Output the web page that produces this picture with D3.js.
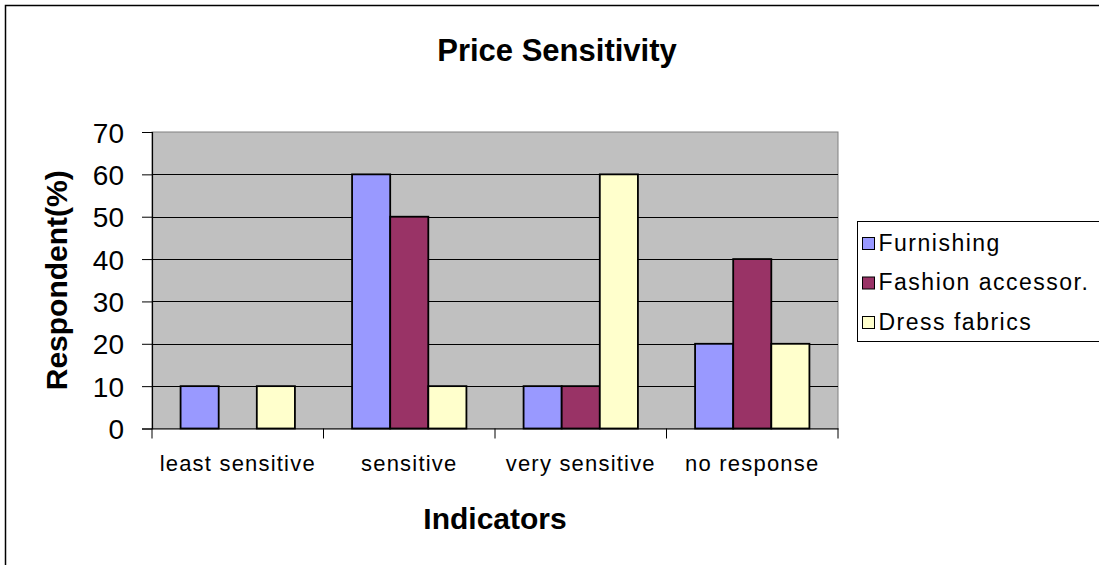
<!DOCTYPE html>
<html>
<head>
<meta charset="utf-8">
<script src="https://cdn.jsdelivr.net/npm/d3@7"></script>
<style>
  body { margin: 0; background: #fff; }
  svg { display: block; font-family: "Liberation Sans", Arial, sans-serif; }
</style>
</head>
<body>
<div id="chart"></div>
<script>
const categories = ['least sensitive', 'sensitive', 'very sensitive', 'no response'];
const seriesNames = ['Furnishing', 'Fashion accessor.', 'Dress fabrics'];
const furnishing = [10, 60, 10, 20];
const fashionAccessor = [0, 50, 10, 40];
const dressFabrics = [10, 10, 60, 20];
const yTicks = [0, 10, 20, 30, 40, 50, 60, 70];
const colors = ['#9999FF', '#993366', '#FFFFCC'];

const seriesValues = [furnishing, fashionAccessor, dressFabrics];
const rows = categories.map((c, i) => ({
  cat: c,
  vals: seriesNames.map((s, j) => ({ name: s, value: seriesValues[j][i], color: colors[j] }))
}));

const W = 1099, H = 565;
const plot = { left: 152, top: 132, right: 838, bottom: 428.5 };

const svg = d3.select('#chart').append('svg').attr('width', W).attr('height', H);

// outer border (clipped on right/bottom like the reference)
svg.append('rect').attr('x', 5.5).attr('y', 5.5).attr('width', W + 10).attr('height', H + 10)
  .attr('fill', '#fff').attr('stroke', '#000').attr('stroke-width', 1.5);

const x0 = d3.scaleBand().domain(categories).range([plot.left, plot.right]);
const barW = x0.bandwidth() / 4.5;
const x1 = d3.scaleBand().domain(seriesNames)
  .range([barW * 0.75, x0.bandwidth() - barW * 0.75]);
const y = d3.scaleLinear().domain([0, 70]).range([plot.bottom, plot.top]);

// plot area
svg.append('rect').attr('x', plot.left).attr('y', plot.top)
  .attr('width', plot.right - plot.left).attr('height', plot.bottom - plot.top)
  .attr('fill', '#C0C0C0').attr('stroke', '#808080').attr('stroke-width', 1);

// grid
svg.append('g').selectAll('line').data(yTicks.filter(d => d > 0 && d < 70)).enter().append('line')
  .attr('x1', plot.left).attr('x2', plot.right)
  .attr('y1', d => Math.round(y(d)) + 0.5).attr('y2', d => Math.round(y(d)) + 0.5)
  .attr('stroke', '#000').attr('stroke-width', 1);

// bars
const groups = svg.append('g').selectAll('g').data(rows).enter().append('g')
  .attr('transform', d => `translate(${x0(d.cat)},0)`);
groups.selectAll('rect').data(d => d.vals.filter(v => v.value > 0)).enter().append('rect')
  .attr('x', d => x1(d.name))
  .attr('y', d => y(d.value))
  .attr('width', x1.bandwidth())
  .attr('height', d => y(0) - y(d.value))
  .attr('fill', d => d.color)
  .attr('stroke', '#000').attr('stroke-width', 1.8);

// y axis
const yAxis = svg.append('g').attr('transform', `translate(${plot.left},0)`)
  .call(d3.axisLeft(y).tickValues(yTicks).tickSize(10).tickPadding(18));
yAxis.select('.domain').attr('stroke', '#000').attr('stroke-width', 1.2);
yAxis.selectAll('.tick line').attr('stroke', '#000');
yAxis.selectAll('text').style('font-size', '28px').attr('fill', '#000').attr('dy', '0.36em');

// x axis
const xAxis = svg.append('g').attr('transform', `translate(0,${plot.bottom})`)
  .call(d3.axisBottom(x0).tickSize(0).tickPadding(27));
xAxis.select('.domain').attr('stroke', '#000').attr('stroke-width', 1.2);
xAxis.selectAll('text').style('font-size', '22px').style('letter-spacing', '1.2px').attr('fill', '#000');
svg.append('g').selectAll('line').data(d3.range(categories.length + 1)).enter().append('line')
  .attr('x1', i => plot.left + i * x0.step()).attr('x2', i => plot.left + i * x0.step())
  .attr('y1', plot.bottom).attr('y2', plot.bottom + 10)
  .attr('stroke', '#000').attr('stroke-width', 1);

// titles
svg.append('text').attr('x', 557).attr('y', 61).attr('text-anchor', 'middle')
  .style('font-size', '31px').style('font-weight', 'bold').text('Price Sensitivity');
svg.append('text').attr('x', (plot.left + plot.right) / 2).attr('y', 529).attr('text-anchor', 'middle')
  .style('font-size', '30px').style('font-weight', 'bold').text('Indicators');
svg.append('text').attr('transform', `translate(67,${(plot.top + plot.bottom) / 2}) rotate(-90)`)
  .attr('text-anchor', 'middle')
  .style('font-size', '30px').style('font-weight', 'bold').text('Respondent(%)');

// legend
const lg = svg.append('g').attr('transform', 'translate(857.5,221.5)');
lg.append('rect').attr('width', 260).attr('height', 120)
  .attr('fill', '#fff').attr('stroke', '#000').attr('stroke-width', 1);
const items = lg.selectAll('g').data(seriesNames).enter().append('g')
  .attr('transform', (d, i) => `translate(0,${21 + i * 39.5})`);
items.append('rect').attr('x', 5).attr('y', -5).attr('width', 12).attr('height', 12)
  .attr('fill', (d, i) => colors[i]).attr('stroke', '#000').attr('stroke-width', 1);
items.append('text').attr('x', 21).attr('dy', '0.36em')
  .style('font-size', '23px').style('letter-spacing', '1.5px').text(d => d);
</script>
</body>
</html>
